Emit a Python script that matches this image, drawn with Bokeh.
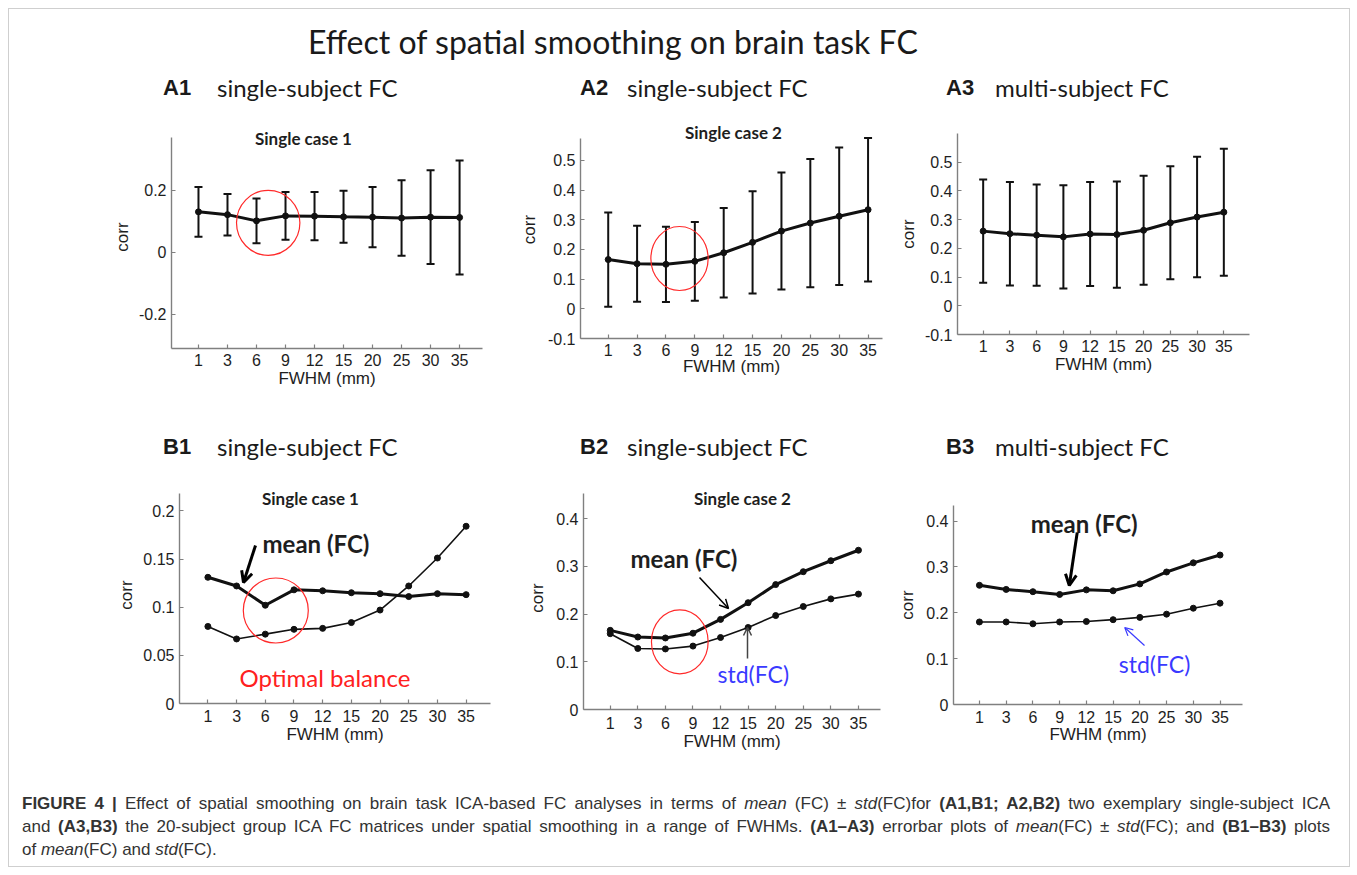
import math
from bokeh.plotting import figure
from bokeh.models import (ColumnDataSource, Whisker, TeeHead, Label, Arrow, OpenHead,
                          FixedTicker, CustomJSTickFormatter, Div, Range1d)
from bokeh.layouts import row, column
from bokeh.embed import file_html
from bokeh.resources import INLINE

# ---------------- data ----------------
fwhm_labels = ["1", "3", "6", "9", "12", "15", "20", "25", "30", "35"]
mean_case1 = [0.131, 0.122, 0.102, 0.118, 0.117, 0.115, 0.114, 0.111, 0.114, 0.113]
std_case1 = [0.080, 0.067, 0.072, 0.077, 0.078, 0.084, 0.097, 0.122, 0.151, 0.184]
mean_case2 = [0.166, 0.152, 0.150, 0.160, 0.189, 0.224, 0.262, 0.289, 0.312, 0.334]
std_case2 = [0.159, 0.128, 0.127, 0.133, 0.151, 0.172, 0.197, 0.216, 0.232, 0.242]
mean_group = [0.260, 0.251, 0.246, 0.240, 0.250, 0.248, 0.263, 0.289, 0.309, 0.326]
std_group = [0.180, 0.180, 0.176, 0.180, 0.181, 0.185, 0.190, 0.197, 0.210, 0.221]
yticks_A1 = [-0.2, 0, 0.2]
yticks_A23 = [-0.1, 0, 0.1, 0.2, 0.3, 0.4, 0.5]
yticks_B1 = [0, 0.05, 0.1, 0.15, 0.2]
yticks_B23 = [0, 0.1, 0.2, 0.3, 0.4]

xs = list(range(1, len(fwhm_labels) + 1))

AXIS_GRAY = "#808080"
TXT = "#1e1e1e"
TICK_FONT = "Liberation Sans"
CAL = "Lato"


class Panel:
    """fx, fy, fw, fh: figure box on the page; L, Ta, R, B: axis box; Tf: frame top."""

    def __init__(self, fx, fy, fw, fh, L, Ta, R, B, Tf, xr, yr, yticks,
                 xstand=5, xlab_stand=0, ylab_stand=4):
        self.L, self.Ta, self.R, self.B = L, Ta, R, B
        self.xr, self.yr = xr, yr
        ytop = self.y(Tf)
        p = figure(width=fw, height=fh, x_range=Range1d(*xr), y_range=Range1d(yr[0], ytop),
                   output_backend="svg", toolbar_location=None, frame_align=False,
                   min_border_left=L - fx, min_border_right=fx + fw - R,
                   min_border_top=Tf - fy, min_border_bottom=fy + fh - B)
        p.title = None
        p.outline_line_color = None
        p.grid.visible = False
        p.background_fill_color = "white"
        p.border_fill_color = "white"
        for ax in (p.xaxis[0], p.yaxis[0]):
            ax.axis_line_color = AXIS_GRAY
            ax.axis_line_width = 1.4
            ax.major_tick_in = 4
            ax.major_tick_out = 0
            ax.major_tick_line_color = AXIS_GRAY
            ax.major_tick_line_width = 1.2
            ax.minor_tick_line_color = None
            ax.major_label_text_font = TICK_FONT
            ax.major_label_text_font_size = "16px"
            ax.major_label_text_color = TXT
            ax.axis_label_text_font = TICK_FONT
            ax.axis_label_text_font_size = "17px"
            ax.axis_label_text_font_style = "normal"
            ax.axis_label_text_color = TXT
        p.xaxis.ticker = FixedTicker(ticks=xs)
        p.xaxis.major_label_overrides = {x: l for x, l in zip(xs, fwhm_labels)}
        p.xaxis.major_label_standoff = xstand
        p.xaxis.axis_label = "FWHM (mm)"
        p.xaxis.axis_label_standoff = xlab_stand
        p.yaxis.ticker = FixedTicker(ticks=yticks)
        p.yaxis.bounds = (yr[0], yr[1])
        p.yaxis.formatter = CustomJSTickFormatter(
            code="return String(Math.round(tick*1000)/1000);")
        p.yaxis.major_label_standoff = 5
        p.yaxis.axis_label = "corr"
        p.yaxis.axis_label_standoff = ylab_stand
        self.p = p

    def x(self, px):
        a, b = self.xr
        return a + (px - self.L) / (self.R - self.L) * (b - a)

    def y(self, py):
        a, b = self.yr
        return b - (py - self.Ta) / (self.B - self.Ta) * (b - a)

    def dx(self, w):
        a, b = self.xr
        return w / (self.R - self.L) * (b - a)

    def dy(self, h):
        a, b = self.yr
        return h / (self.B - self.Ta) * (b - a)

    def label(self, px, py, text, font=CAL, size="14px", style="normal", color=TXT,
              align="left"):
        self.p.add_layout(Label(x=self.x(px), y=self.y(py), text=text, text_font=font,
                                text_font_size=size, text_font_style=style,
                                text_color=color, text_align=align,
                                text_baseline="middle"))

    def circle(self, cx, cy, w, h):
        self.p.ellipse(x=[self.x(cx)], y=[self.y(cy)], width=self.dx(w), height=self.dy(h),
                       fill_color=None, line_color="#ff2a2a", line_width=1.2)

    def arrow(self, x0, y0, x1, y1, width, color="black", size=10):
        self.p.add_layout(Arrow(end=OpenHead(line_color=color, line_width=width, size=size),
                                x_start=self.x(x0), y_start=self.y(y0),
                                x_end=self.x(x1), y_end=self.y(y1),
                                line_color=color, line_width=width))


def errorbar_panel(pn, mean, std):
    src = ColumnDataSource(dict(x=xs, m=mean,
                                lo=[m - s for m, s in zip(mean, std)],
                                hi=[m + s for m, s in zip(mean, std)]))
    pn.p.add_layout(Whisker(source=src, base="x", upper="hi", lower="lo",
                            line_color="#111111", line_width=2,
                            upper_head=TeeHead(size=8, line_width=2, line_color="#111111"),
                            lower_head=TeeHead(size=8, line_width=2, line_color="#111111")))
    pn.p.line("x", "m", source=src, line_color="#111111", line_width=3)
    pn.p.scatter("x", "m", source=src, size=6, color="#111111")


def meanstd_panel(pn, mean, std):
    src = ColumnDataSource(dict(x=xs, m=mean, s=std))
    pn.p.line("x", "s", source=src, line_color="#111111", line_width=1.6)
    pn.p.scatter("x", "s", source=src, size=6, color="#111111")
    pn.p.line("x", "m", source=src, line_color="#111111", line_width=3)
    pn.p.scatter("x", "m", source=src, size=6, color="#111111")


# ---------------- row A (page y 110..395) ----------------
A1 = Panel(9, 110, 506, 285, 171, 137, 482, 348, 125, (0.07, 10.79), (-0.31, 0.371),
           yticks_A1, xstand=5, xlab_stand=0)
errorbar_panel(A1, mean_case1, std_case1)
A1.label(303, 138, "Single case 1", size="17px", style="bold", align="center")
A1.circle(267.7, 222.3, 63.4, 65)

A2 = Panel(515, 110, 380, 285, 580, 138, 882, 338, 120, (0.04, 10.5), (-0.1, 0.574),
           yticks_A23, xstand=5, xlab_stand=-2, ylab_stand=6)
errorbar_panel(A2, mean_case2, std_case2)
A2.label(733, 132, "Single case 2", size="17px", style="bold", align="center")
A2.circle(679, 258, 57.3, 64)

A3 = Panel(895, 110, 454, 285, 954, 133, 1249, 334, 133, (0.04, 10.96), (-0.1, 0.6),
           yticks_A23, xstand=5, xlab_stand=0, ylab_stand=4)
errorbar_panel(A3, mean_group, std_group)

# ---------------- row B (page y 475..765) ----------------
B1 = Panel(9, 475, 511, 290, 179, 493, 490, 703, 486, (0.01, 10.85), (0.0, 0.218),
           yticks_B1, xstand=6, xlab_stand=0)
meanstd_panel(B1, mean_case1, std_case1)
B1.label(310, 498, "Single case 1", size="17px", style="bold", align="center")
B1.circle(275.3, 610, 65, 65)
B1.label(262, 543, "mean (FC)", size="24px", style="bold")
B1.arrow(255, 545, 243, 582, 3, size=11)
B1.label(239, 677, "Optimal balance", size="24px", color="#ff2020")

B2 = Panel(520, 475, 375, 290, 583, 493, 880, 709, 486, (0.03, 10.8), (0.0, 0.453),
           yticks_B23, xstand=7, xlab_stand=0, ylab_stand=6)
meanstd_panel(B2, mean_case2, std_case2)
B2.label(742, 498, "Single case 2", size="17px", style="bold", align="center")
B2.circle(679.3, 641.3, 56.7, 64)
B2.label(630, 558, "mean (FC)", size="24px", style="bold")
B2.arrow(699, 577, 728, 608, 1.5, size=9)
B2.label(717, 673, "std(FC)", size="23px", color="#3a3aff")
B2.arrow(747, 658, 747, 627, 1.5, color="#444444", size=8)

B3 = Panel(895, 475, 454, 290, 950, 505, 1242, 704, 505, (0.03, 10.84), (0.0, 0.434),
           yticks_B23, xstand=6, xlab_stand=-1, ylab_stand=6)
meanstd_panel(B3, mean_group, std_group)
B3.label(1028, 523, "mean (FC)", size="24px", style="bold")
B3.arrow(1075, 532, 1067, 585, 3, size=11)
B3.label(1117, 663, "std(FC)", size="23px", color="#3a3aff")
B3.arrow(1143, 645, 1123, 627, 1.2, color="#3a3aff", size=8)


# ---------------- text blocks ----------------
def span(left, cy, text, font, size, weight="normal", color="#1a1a1a"):
    lh = round(size * 1.25)
    top = cy - lh / 2
    return (f'<span style="position:absolute;left:{left}px;top:{top}px;'
            f'font-family:{font};font-size:{size}px;line-height:{lh}px;font-weight:{weight};'
            f'color:{color};white-space:nowrap;">{text}</span>')


def headers(cy, names):
    out = ""
    for tag_x, txt_x, tag, txt in names:
        out += span(tag_x, cy, tag, "'Liberation Sans'", 22, "bold")
        out += span(txt_x, cy, txt, "Lato", 24)
    return out


top_html = ('<div style="position:relative;width:1340px;height:101px;">'
            + span(299, 33, "Effect of spatial smoothing on brain task FC", "Lato", 32)
            + headers(79, [(154, 208, "A1", "single-subject FC"),
                           (571, 618, "A2", "single-subject FC"),
                           (937, 986, "A3", "multi-subject FC")])
            + '</div>')
top_div = Div(text=top_html, width=1340, height=101, margin=0)

hb_html = ('<div style="position:relative;width:1340px;height:80px;">'
           + headers(52, [(154, 208, "B1", "single-subject FC"),
                          (571, 618, "B2", "single-subject FC"),
                          (937, 986, "B3", "multi-subject FC")])
           + '</div>')
hb_div = Div(text=hb_html, width=1340, height=80, margin=0)

line_style = "text-align:justify;text-align-last:justify;white-space:normal;"
caption_html = (
    '<div style="position:relative;width:1340px;height:101px;">'
    '<div style="position:absolute;left:13px;top:27px;width:1308px;'
    'font-family:\'Liberation Sans\';font-size:17px;line-height:23px;color:#333333;">'
    f'<div style="{line_style}"><b>FIGURE 4 |</b> Effect of spatial smoothing on brain task '
    'ICA-based FC analyses in terms of <i>mean</i> (FC) ± <i>std</i>(FC)for '
    '<b>(A1,B1; A2,B2)</b> two exemplary single-subject ICA</div>'
    f'<div style="{line_style}">and <b>(A3,B3)</b> the 20-subject group ICA FC matrices under '
    'spatial smoothing in a range of FWHMs. <b>(A1–A3)</b> errorbar plots of '
    '<i>mean</i>(FC) ± <i>std</i>(FC); and <b>(B1–B3)</b> plots</div>'
    '<div>of <i>mean</i>(FC) and <i>std</i>(FC).</div>'
    '</div></div>')
caption_div = Div(text=caption_html, width=1340, height=101, margin=0)

rowA = row(A1.p, A2.p, A3.p, spacing=0)
rowB = row(B1.p, B2.p, B3.p, spacing=0)
root = column(top_div, rowA, hb_div, rowB, caption_div, spacing=0, margin=(8, 0, 0, 8),
              styles={"border": "1px solid #cfcfcf"})

open("out.html", "w").write(file_html(root, INLINE))
